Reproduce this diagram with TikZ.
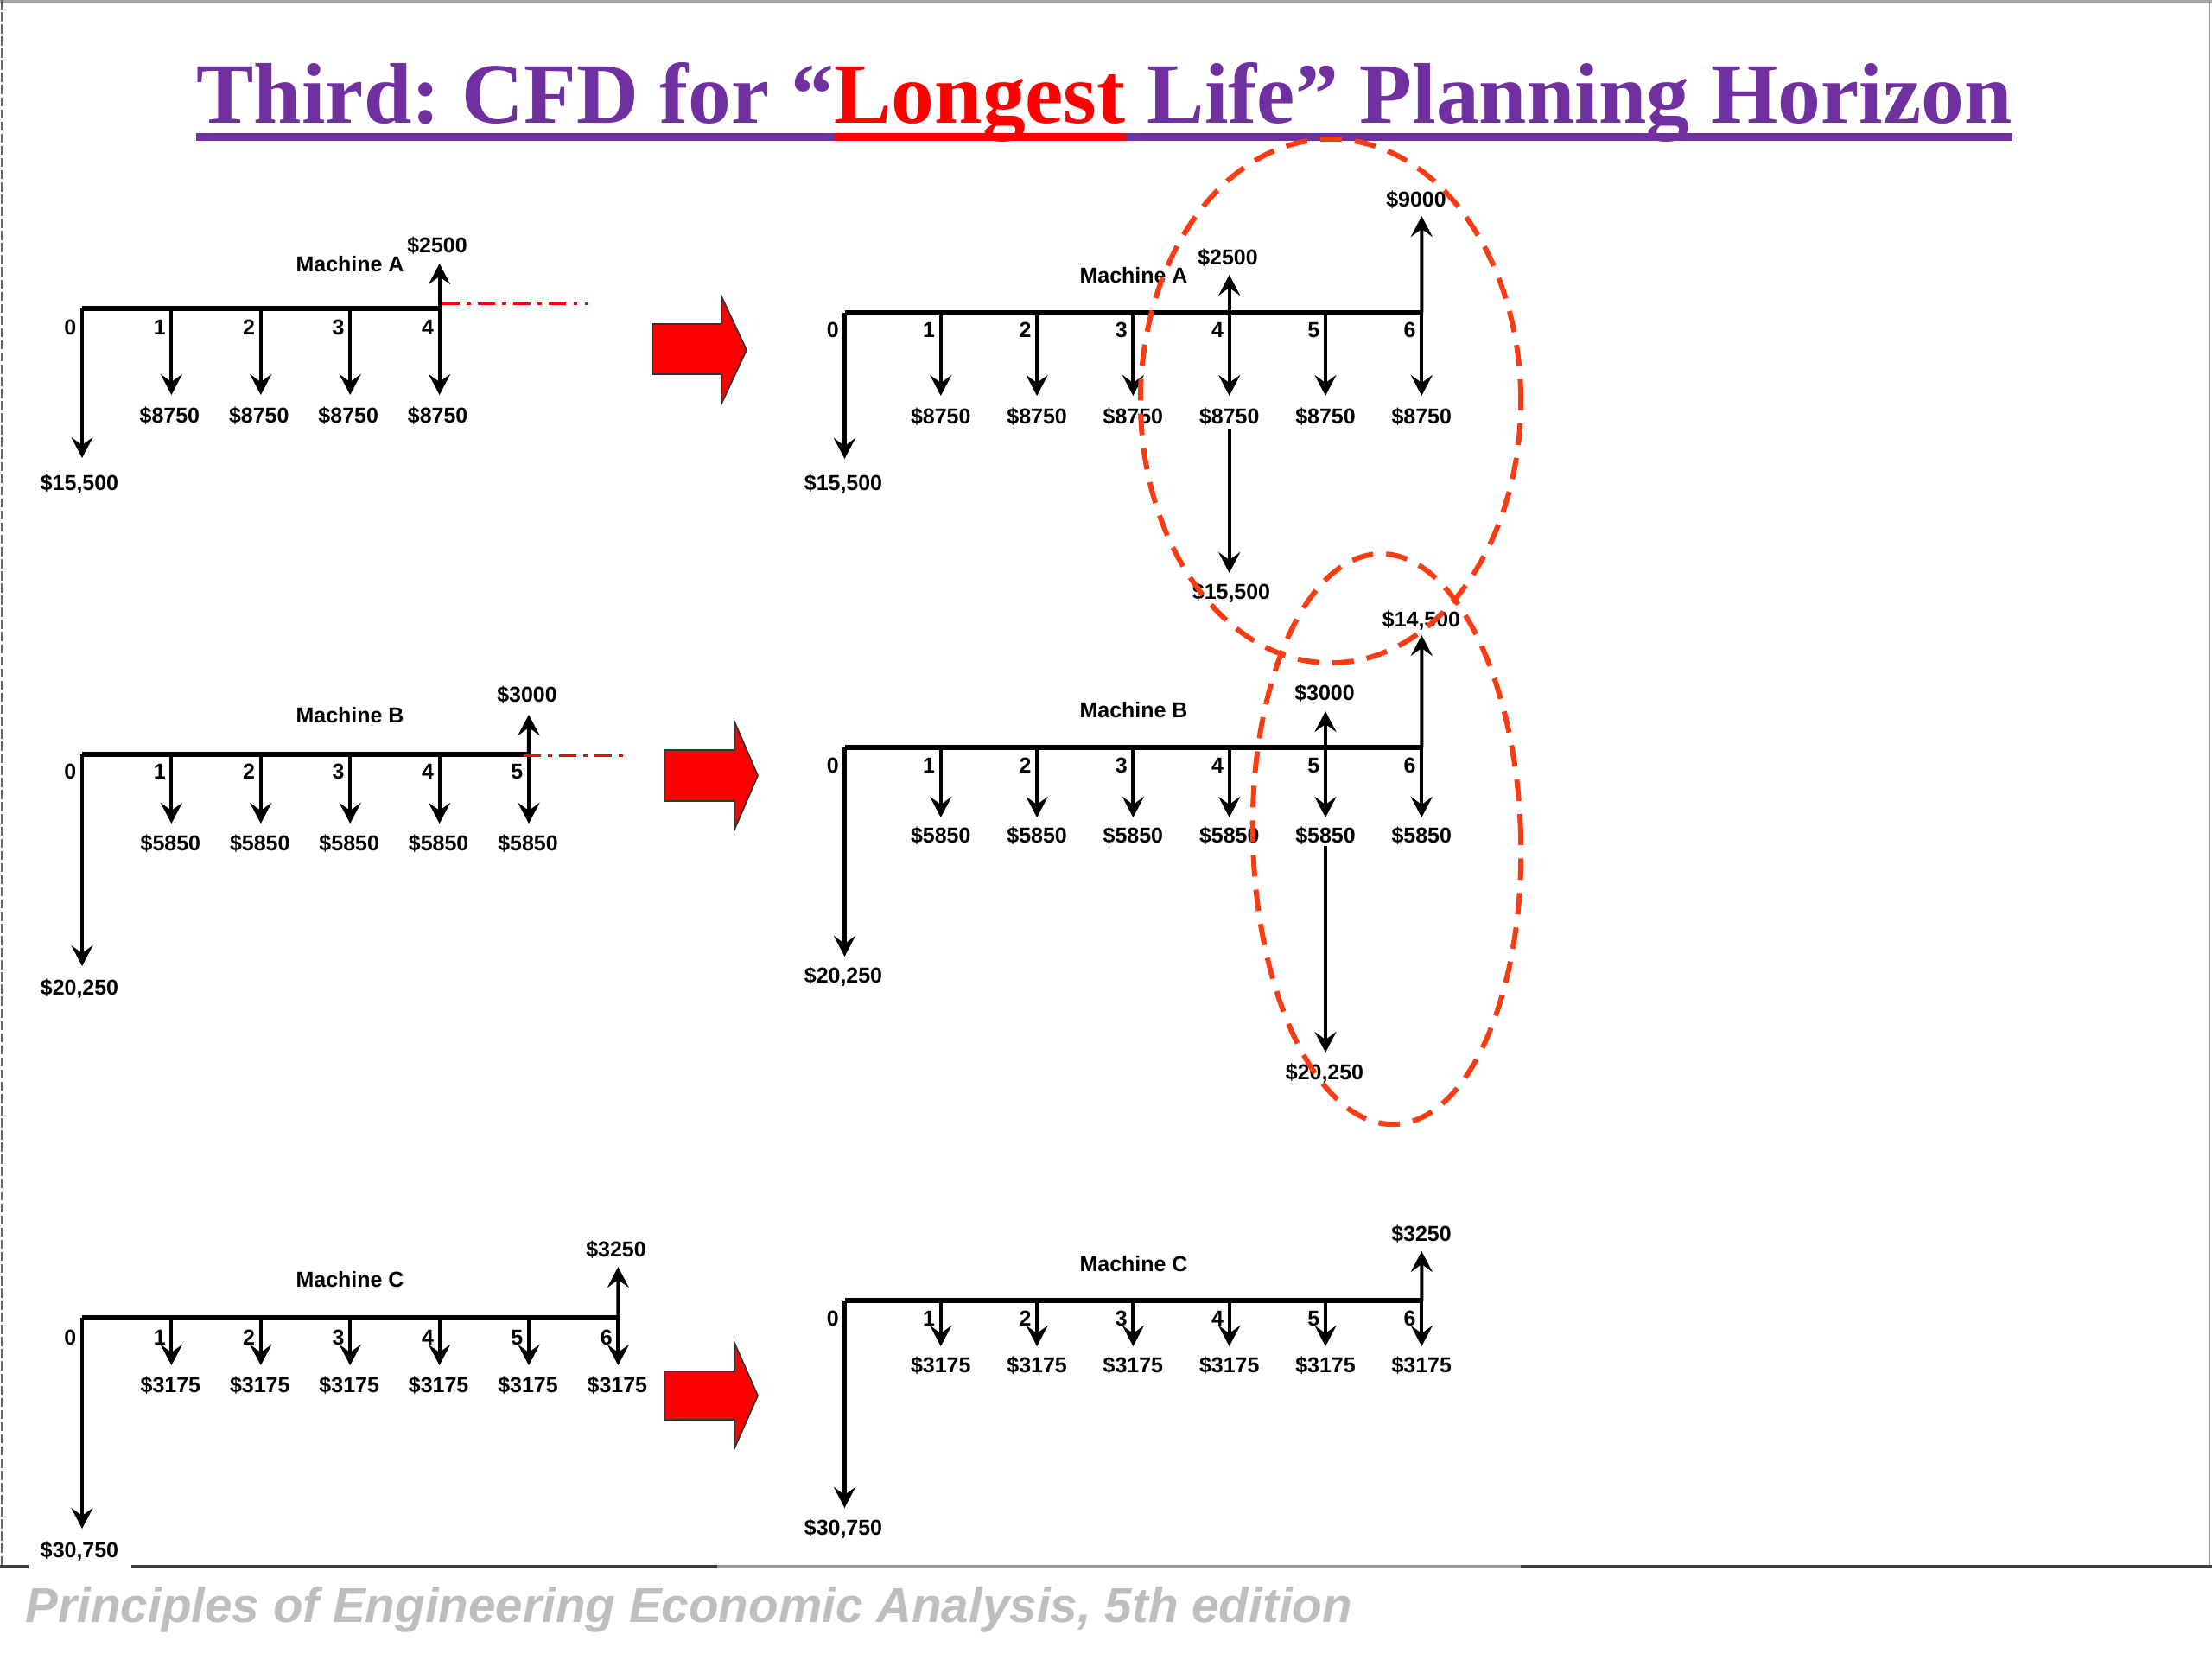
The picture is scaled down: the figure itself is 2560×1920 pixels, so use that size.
\documentclass[tikz,border=0pt]{standalone}
\usepackage{fontspec}
\setmainfont{Liberation Serif}
\newfontfamily\labfont{Liberation Sans}
\usetikzlibrary{arrows.meta}
\definecolor{ttlpurple}{RGB}{112,48,160}
\definecolor{ellred}{RGB}{250,60,20}
\definecolor{footgray}{RGB}{190,190,190}
\definecolor{blockred}{RGB}{255,0,0}
\newcommand\ttlul[2]{\setbox0\hbox{#2}\rlap{\color{#1}\rule[-0.205cm]{\wd0}{0.09cm}}\box0}
\begin{document}
\begin{tikzpicture}[x=0.01cm,y=-0.01cm,
  lbl/.style={font=\labfont\bfseries\fontsize{7.1pt}{8.5pt}\selectfont, inner sep=0pt},
  tline/.style={line width=1.6pt},
  cf/.style={line width=1.15pt, -{Stealth[length=2.4mm,width=2.5mm,inset=0.9mm]}},
  dashdot/.style={red, line width=0.85pt, dash pattern=on 5.7pt off 2.3pt on 1.4pt off 2.3pt},
  blockarrow/.style={fill=blockred, draw=black!80, line width=0.5pt},
  ellipsestyle/.style={ellred, line width=1.7pt, dash pattern=on 7.1pt off 4.3pt}]
\useasboundingbox (0,0) rectangle (2560,1920);
\fill[white] (0,0) rectangle (2560,1920);
% frame
\draw[gray!70, line width=0.9pt] (0,1.5) -- (2560,1.5);
\draw[black!60, line width=0.8pt, dash pattern=on 3pt off 1pt] (2,0) -- (2,1813);
\draw[gray!80, line width=0.8pt] (2557,0) -- (2557,1813);
\draw[black!75, line width=1.1pt] (0,1813) -- (33,1813);
\draw[black!75, line width=1.1pt] (152,1813) -- (830,1813);
\draw[black!40, line width=1.1pt] (830,1813) -- (1760,1813);
\draw[black!75, line width=1.1pt] (1760,1813) -- (2560,1813);
% title
\node[anchor=base, inner sep=0pt, font=\frenchspacing\bfseries\fontsize{28.3pt}{34pt}\selectfont, text=ttlpurple] (title) at (1278,142)
  {\ttlul{ttlpurple}{Third: CFD for “}\ttlul{red}{\textcolor{red}{Longest}}\ttlul{ttlpurple}{\ Life” Planning Horizon}};
% footer
\node[anchor=base west, inner sep=0pt, font=\labfont\bfseries\itshape\fontsize{16.1pt}{19pt}\selectfont, text=footgray] (foot) at (29,1877)
  {Principles of Engineering Economic Analysis, 5th edition};

% ---------------- Left A
\foreach \i in {0,...,4} \coordinate (la\i) at ({95+103.4*\i},357);
\draw[tline] (la0) -- (la4);
\foreach \i in {0,...,4} \node[lbl,anchor=base east] (lan\i) at ({89+103.4*\i},387) {\i};
\foreach \i in {1,...,4} {
  \coordinate (lae\i) at ({95+103.4*\i},457);
  \draw[cf] (la\i) -- (lae\i);
  \node[lbl,anchor=base] (lav\i) at ({93+103.4*\i},489) {\$8750};
}
\coordinate (lae0) at (95,530);
\draw[cf] (la0) -- (lae0);
\node[lbl,anchor=base] (lav0) at (92,567) {\$15,500};
\coordinate (lau4) at (508.6,305);
\draw[cf] (la4) -- (lau4);
\node[lbl,anchor=base] (lasal) at (506,292) {\$2500};
\node[lbl,anchor=base] (lam) at (405,314) {Machine A};
\coordinate (lds) at (512,351); \coordinate (lde) at (680,351);
\draw[dashdot] (lds) -- (lde);
\filldraw[blockarrow] (755,375) -- (835,375) -- (835,343) -- (864,405) -- (835,467) -- (835,433) -- (755,433) -- cycle;

% ---------------- Left B
\foreach \i in {0,...,5} \coordinate (lb\i) at ({95+103.4*\i},873);
\draw[tline] (lb0) -- (lb5);
\foreach \i in {0,...,5} \node[lbl,anchor=base east] (lbn\i) at ({89+103.4*\i},901) {\i};
\foreach \i in {1,...,5} {
  \coordinate (lbe\i) at ({95+103.4*\i},953);
  \draw[cf] (lb\i) -- (lbe\i);
  \node[lbl,anchor=base] (lbv\i) at ({94+103.4*\i},984) {\$5850};
}
\coordinate (lbe0) at (95,1118);
\draw[cf] (lb0) -- (lbe0);
\node[lbl,anchor=base] (lbv0) at (92,1151) {\$20,250};
\coordinate (lbu5) at (612,827);
\draw[cf] (lb5) -- (lbu5);
\node[lbl,anchor=base] (lbsal) at (610,812) {\$3000};
\node[lbl,anchor=base] (lbm) at (405,836) {Machine B};
\coordinate (lbds) at (606,874); \coordinate (lbde) at (729,874);
\draw[dashdot] (lbds) -- (lbde);
\filldraw[blockarrow] (769,868) -- (850,868) -- (850,835) -- (877,897.5) -- (850,960) -- (850,927) -- (769,927) -- cycle;

% ---------------- Left C
\foreach \i in {0,...,6} \coordinate (lc\i) at ({95+103.4*\i},1525);
\draw[tline] (lc0) -- (lc6);
\foreach \i in {0,...,6} \node[lbl,anchor=base east] (lcn\i) at ({89+103.4*\i},1556) {\i};
\foreach \i in {1,...,6} {
  \coordinate (lce\i) at ({95+103.4*\i},1580);
  \draw[cf] (lc\i) -- (lce\i);
  \node[lbl,anchor=base] (lcv\i) at ({94+103.4*\i},1611) {\$3175};
}
\coordinate (lce0) at (95,1769);
\draw[cf] (lc0) -- (lce0);
\node[lbl,anchor=base] (lcv0) at (92,1802) {\$30,750};
\coordinate (lcu6) at (715.4,1466);
\draw[cf] (lc6) -- (lcu6);
\node[lbl,anchor=base] (lcsal) at (713,1454) {\$3250};
\node[lbl,anchor=base] (lcm) at (405,1489) {Machine C};
\filldraw[blockarrow] (769,1587) -- (850,1587) -- (850,1554) -- (877,1615) -- (850,1676) -- (850,1643) -- (769,1643) -- cycle;

% ---------------- Right A
\foreach \i in {0,...,6} \coordinate (ra\i) at ({977.5+111.3*\i},362);
\draw[tline] (ra0) -- (ra6);
\foreach \i in {0,...,6} \node[lbl,anchor=base east] (ran\i) at ({971.5+111.3*\i},390.5) {\i};
\foreach \i in {1,...,6} {
  \coordinate (rae\i) at ({977.5+111.3*\i},458);
  \draw[cf] (ra\i) -- (rae\i);
  \node[lbl,anchor=base] (rav\i) at ({977.5+111.3*\i},490) {\$8750};
}
\coordinate (rae0) at (977.5,531);
\draw[cf] (ra0) -- (rae0);
\node[lbl,anchor=base] (rav0) at (976,567) {\$15,500};
\coordinate (rau4) at (1422.7,318);
\draw[cf] (ra4) -- (rau4);
\node[lbl,anchor=base] (rasal4) at (1421,306) {\$2500};
\coordinate (rau6) at (1645.3,250);
\draw[cf] (ra6) -- (rau6);
\node[lbl,anchor=base] (rasal6) at (1639,239) {\$9000};
\node[lbl,anchor=base] (ram) at (1312,327) {Machine A};
\coordinate (rxs) at (1422.7,496); \coordinate (rxe) at (1422.7,663);
\draw[cf] (rxs) -- (rxe);
\node[lbl,anchor=base] (rxv) at (1425,693) {\$15,500};

% ---------------- Right B
\foreach \i in {0,...,6} \coordinate (rb\i) at ({977.5+111.3*\i},865);
\draw[tline] (rb0) -- (rb6);
\foreach \i in {0,...,6} \node[lbl,anchor=base east] (rbn\i) at ({971.5+111.3*\i},894.6) {\i};
\foreach \i in {1,...,6} {
  \coordinate (rbe\i) at ({977.5+111.3*\i},946);
  \draw[cf] (rb\i) -- (rbe\i);
  \node[lbl,anchor=base] (rbv\i) at ({977.5+111.3*\i},975) {\$5850};
}
\coordinate (rbe0) at (977.5,1107);
\draw[cf] (rb0) -- (rbe0);
\node[lbl,anchor=base] (rbv0) at (976,1137) {\$20,250};
\coordinate (rbu5) at (1534,823);
\draw[cf] (rb5) -- (rbu5);
\node[lbl,anchor=base] (rbsal5) at (1533,810) {\$3000};
\coordinate (rbu6) at (1645.3,735);
\draw[cf] (rb6) -- (rbu6);
\node[lbl,anchor=base] (rbsal6) at (1645,725) {\$14,500};
\node[lbl,anchor=base] (rbm) at (1312,830) {Machine B};
\coordinate (rbxs) at (1534,979); \coordinate (rbxe) at (1534,1218);
\draw[cf] (rbxs) -- (rbxe);
\node[lbl,anchor=base] (rbxv) at (1533,1249) {\$20,250};

% ---------------- Right C
\foreach \i in {0,...,6} \coordinate (rc\i) at ({977.5+111.3*\i},1505);
\draw[tline] (rc0) -- (rc6);
\foreach \i in {0,...,6} \node[lbl,anchor=base east] (rcn\i) at ({971.5+111.3*\i},1534) {\i};
\foreach \i in {1,...,6} {
  \coordinate (rce\i) at ({977.5+111.3*\i},1558);
  \draw[cf] (rc\i) -- (rce\i);
  \node[lbl,anchor=base] (rcv\i) at ({977.5+111.3*\i},1588) {\$3175};
}
\coordinate (rce0) at (977.5,1745);
\draw[cf] (rc0) -- (rce0);
\node[lbl,anchor=base] (rcv0) at (976,1776) {\$30,750};
\coordinate (rcu6) at (1645.3,1448);
\draw[cf] (rc6) -- (rcu6);
\node[lbl,anchor=base] (rcsal6) at (1645,1436) {\$3250};
\node[lbl,anchor=base] (rcm) at (1312,1471) {Machine C};

% ---------------- dashed ellipses
\draw[ellipsestyle] (1540,464) ellipse [x radius=2.2cm, y radius=3.03cm];
\draw[ellipsestyle, rotate around={1.5:(1605,971)}] (1605,971) ellipse [x radius=1.55cm, y radius=3.30cm];
\end{tikzpicture}
\end{document}
